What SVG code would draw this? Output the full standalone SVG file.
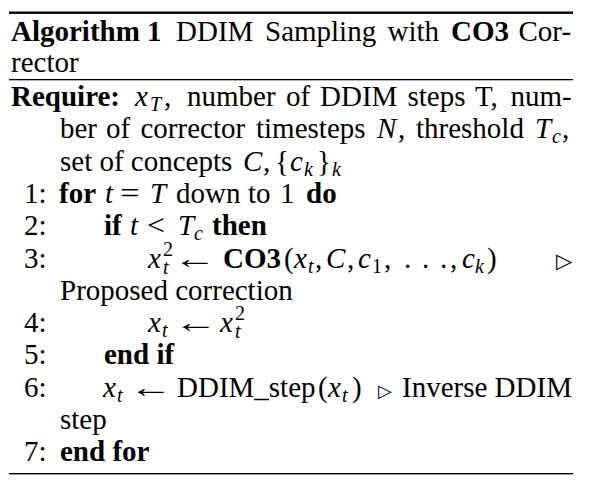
<svg xmlns="http://www.w3.org/2000/svg" width="589" height="484" viewBox="0 0 589 484">
<style>
text{font-family:"Liberation Serif","Times New Roman",serif;font-size:29px;fill:#000}
.b{font-weight:bold}
.i{font-style:italic}
.s{font-size:20px}
.tri{font-family:"DejaVu Sans",sans-serif;font-size:21px}
.tri2{font-family:"DejaVu Sans",sans-serif;font-size:18px}
.rule{fill:#000}
</style>
<rect width="589" height="484" fill="#fff"/>
<g id="rules">
<rect class="rule" x="9" y="11.5" width="564" height="2.4"/>
<rect class="rule" x="9" y="79" width="564" height="1.3"/>
<rect class="rule" x="9" y="473" width="564" height="1.4"/>
</g>
<g id="title">
<text x="11" y="41" class="b">Algorithm 1</text>
<text x="176" y="41">DDIM</text>
<text x="265" y="41">Sampling</text>
<text x="387.5" y="41">with</text>
<text x="451" y="41" class="b">CO3</text>
<text x="518.5" y="41">Cor-</text>
<text x="11" y="72">rector</text>
</g>
<g id="require">
<text x="11" y="106" class="b">Require:</text>
<text x="135" y="106" class="i">x</text>
<text x="150" y="111" class="i s">T</text>
<text x="164" y="106">,</text>
<text x="187" y="106">number</text>
<text x="286" y="106">of</text>
<text x="320" y="106">DDIM</text>
<text x="407.5" y="106">steps</text>
<text x="475" y="106">T,</text>
<text x="510.5" y="106">num-</text>
<text x="60" y="138.3">ber</text>
<text x="106" y="138.3">of</text>
<text x="140.5" y="138.3">corrector</text>
<text x="256" y="138.3">timesteps</text>
<text x="377" y="138.3" class="i">N</text>
<text x="398" y="138.3">,</text>
<text x="416" y="138.3">threshold</text>
<text x="535" y="138.3" class="i">T</text>
<text x="552" y="143.3" class="i s">c</text>
<text x="562" y="138.3">,</text>
<text x="60" y="170.6">set of concepts</text>
<text x="243" y="170.6" class="i">C</text>
<text x="263" y="170.6">,</text>
<text x="275" y="170.6">{</text>
<text x="290" y="170.6" class="i">c</text>
<text x="304" y="175.6" class="i s">k</text>
<text x="317" y="170.6">}</text>
<text x="332" y="175.6" class="i s">k</text>
</g>
<g id="line1">
<text x="24" y="202.9">1:</text>
<text x="59" y="202.9" class="b">for</text>
<text x="105" y="202.9" class="i">t</text>
<text transform="translate(120,202.9) scale(1.2,1)">=</text>
<text x="150" y="202.9" class="i">T</text>
<text x="176" y="202.9">down</text>
<text x="248" y="202.9">to</text>
<text x="280" y="202.9">1</text>
<text x="306" y="202.9" class="b">do</text>
</g>
<g id="line2">
<text x="24" y="235.2">2:</text>
<text x="104" y="235.2" class="b">if</text>
<text x="130" y="235.2" class="i">t</text>
<text transform="translate(147,235.2) scale(1.1,1)">&lt;</text>
<text x="178" y="235.2" class="i">T</text>
<text x="194" y="240.2" class="i s">c</text>
<text x="212" y="235.2" class="b">then</text>
</g>
<g id="line3">
<text x="24" y="267.5">3:</text>
<text x="148" y="267.5" class="i">x</text>
<text x="163" y="255.5" class="s">2</text>
<text x="163" y="273.5" class="i s">t</text>
<text transform="translate(173,267.5) scale(1.5,1)">←</text>
<text x="223" y="267.5" class="b">CO3</text>
<text x="284" y="267.5">(</text>
<text x="294" y="267.5" class="i">x</text>
<text x="308" y="272.5" class="i s">t</text>
<text x="315" y="267.5">,</text>
<text x="326" y="267.5" class="i">C</text>
<text x="347" y="267.5">,</text>
<text x="358" y="267.5" class="i">c</text>
<text x="372" y="272.5" class="s">1</text>
<text x="384" y="267.5">,</text>
<text x="404 422 440" y="267.5">...</text>
<text x="450" y="267.5">,</text>
<text x="462" y="267.5" class="i">c</text>
<text x="475" y="272.5" class="i s">k</text>
<text x="487" y="267.5">)</text>
<text x="556" y="267.5" class="tri">▷</text>
<text x="60" y="299.8">Proposed correction</text>
</g>
<g id="line4">
<text x="24" y="332.1">4:</text>
<text x="148" y="332.1" class="i">x</text>
<text x="162" y="337.1" class="i s">t</text>
<text transform="translate(174,332.1) scale(1.5,1)">←</text>
<text x="220" y="332.1" class="i">x</text>
<text x="235" y="320.1" class="s">2</text>
<text x="235" y="338.1" class="i s">t</text>
</g>
<g id="line5">
<text x="24" y="364.4">5:</text>
<text x="104" y="364.4" class="b">end if</text>
</g>
<g id="line6">
<text x="24" y="396.7">6:</text>
<text x="103" y="396.7" class="i">x</text>
<text x="117" y="401.7" class="i s">t</text>
<text transform="translate(129,396.7) scale(1.5,1)">←</text>
<text x="177" y="396.7">DDIM_step</text>
<text x="318" y="396.7">(</text>
<text x="328" y="396.7" class="i">x</text>
<text x="342" y="401.7" class="i s">t</text>
<text x="352" y="396.7">)</text>
<text x="378" y="396.7" class="tri2">▷</text>
<text x="402" y="396.7">Inverse DDIM</text>
<text x="60" y="429">step</text>
</g>
<g id="line7">
<text x="24" y="461.3">7:</text>
<text x="60" y="461.3" class="b">end for</text>
</g>
</svg>
